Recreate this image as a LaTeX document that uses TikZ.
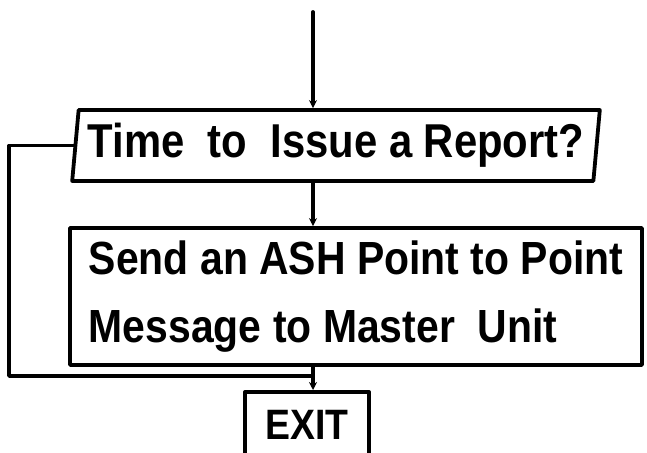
\documentclass[tikz,border=0pt]{standalone}
\usepackage{fontspec}
\setmainfont[FakeStretch=0.88]{Liberation Sans}
\usetikzlibrary{arrows.meta,shapes.geometric}

\begin{document}
\begin{tikzpicture}[x=1pt, y=-1pt, line width=3.8pt, line cap=round, line join=round,
    decision/.style={trapezium, draw, trapezium left angle=82, trapezium right angle=98,
        trapezium stretches=true, minimum width=531pt, minimum height=71pt, inner sep=0pt,
        font=\fontsize{47.5}{54}\selectfont\bfseries},
    process/.style={rectangle, draw, minimum width=572pt, minimum height=137pt, align=left,
        font=\fontsize{46.5}{68}\selectfont\bfseries},
    exitbox/.style={rectangle, draw, minimum width=124pt, inner xsep=0pt, inner ysep=8pt,
        text height=40pt, text depth=20pt, font=\fontsize{42.5}{48}\selectfont\bfseries},
    flow/.style={-{Stealth[length=8pt,width=8pt]}}]
    \clip (0,0) rectangle (647,452);
    \fill[white] (0,0) rectangle (647,452);

    \node [decision] (report) at (336,145.5) {Time~~to~~Issue a Report?};
    \node [process] (task) at (356,296.5) {Send an ASH Point to Point\\Message to Master~~Unit};
    \node [exitbox, anchor=north] (exit) at (307,390) {EXIT};

    \coordinate (entry) at (313,12);
    \coordinate (corner) at (9,376);
    \coordinate (join) at (313,376);

    % main flow
    \draw [flow] (entry) -- (entry |- report.north);
    \draw [flow] (entry |- report.south) -- (entry |- task.north);
    \draw [flow] (entry |- task.south) -- (entry |- exit.north);

    % loop back when no report is due
    \draw (report.left side) -| (corner) -- (join);
\end{tikzpicture}
\end{document}
